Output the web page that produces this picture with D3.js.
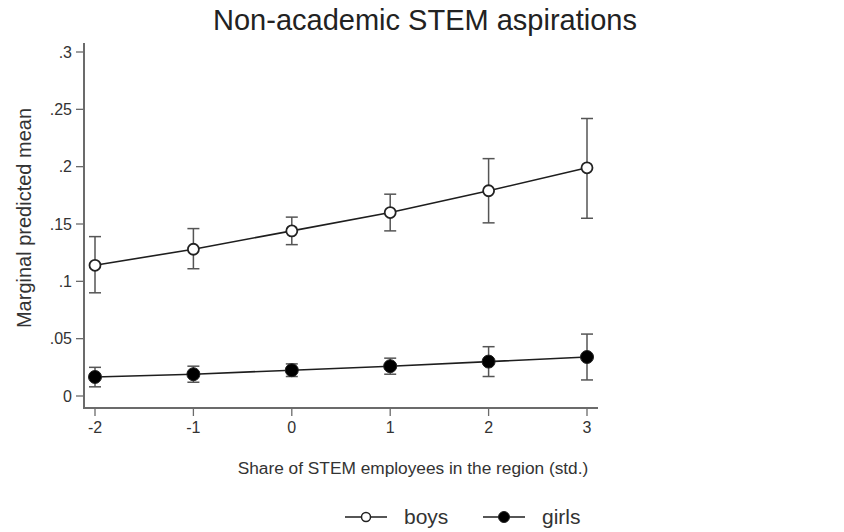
<!DOCTYPE html>
<html><head><meta charset="utf-8">
<script src="https://cdn.jsdelivr.net/npm/d3@7"></script>
<style>body{margin:0;background:#fff;} text{font-family:"Liberation Sans",Arial,sans-serif;}</style>
</head><body>
<svg id="c" width="844" height="532"></svg>
<script>
const xs = [-2, -1, 0, 1, 2, 3];
const boysMean = [0.114, 0.128, 0.144, 0.160, 0.179, 0.199];
const boysLo   = [0.090, 0.111, 0.132, 0.144, 0.151, 0.155];
const boysHi   = [0.139, 0.146, 0.156, 0.176, 0.207, 0.242];
const girlsMean = [0.0166, 0.019, 0.0225, 0.026, 0.030, 0.034];
const girlsLo   = [0.008, 0.012, 0.017, 0.019, 0.017, 0.014];
const girlsHi   = [0.025, 0.026, 0.028, 0.033, 0.043, 0.054];
const yTicks = [0, 0.05, 0.1, 0.15, 0.2, 0.25, 0.3];
const yTickLabels = ["0", ".05", ".1", ".15", ".2", ".25", ".3"];
const xTicks = [-2, -1, 0, 1, 2, 3];
const seriesNames = ["boys", "girls"];

const svg = d3.select("#c");
const x = d3.scaleLinear().domain([-2, 3]).range([95, 587]);
const y = d3.scaleLinear().domain([0, 0.3]).range([396, 52]);
const axisCol = "#6b6b6b", textCol = "#333";

svg.append("line").attr("x1",84).attr("x2",84).attr("y1",43).attr("y2",409).attr("stroke",axisCol).attr("stroke-width",2);
svg.append("line").attr("x1",83).attr("x2",598).attr("y1",408).attr("y2",408).attr("stroke",axisCol).attr("stroke-width",2);

yTicks.forEach((t,i)=>{
  svg.append("line").attr("x1",76).attr("x2",84).attr("y1",y(t)).attr("y2",y(t)).attr("stroke",axisCol).attr("stroke-width",1.3);
  svg.append("text").attr("x",72).attr("y",y(t)).attr("dy","0.35em").attr("text-anchor","end")
    .attr("font-size",16).attr("fill",textCol).text(yTickLabels[i]);
});
xTicks.forEach(t=>{
  svg.append("line").attr("x1",x(t)).attr("x2",x(t)).attr("y1",408).attr("y2",416).attr("stroke",axisCol).attr("stroke-width",1.3);
  svg.append("text").attr("x",x(t)).attr("y",433).attr("text-anchor","middle")
    .attr("font-size",16).attr("fill",textCol).text(String(t));
});

svg.append("text").attr("x",425).attr("y",30).attr("text-anchor","middle").attr("font-size",29).attr("fill","#222").text("Non-academic STEM aspirations");
svg.append("text").attr("x",413).attr("y",474).attr("text-anchor","middle").attr("font-size",17.3).attr("fill",textCol).text("Share of STEM employees in the region (std.)");
svg.append("text").attr("transform","translate(31,218) rotate(-90)").attr("text-anchor","middle").attr("font-size",20).attr("fill",textCol).text("Marginal predicted mean");

const lineCol = "#1e1e1e", errCol = "#555";
function series(mean, lo, hi, filled){
  const g = svg.append("g");
  xs.forEach((v,i)=>{
    g.append("line").attr("x1",x(v)).attr("x2",x(v)).attr("y1",y(lo[i])).attr("y2",y(hi[i])).attr("stroke",errCol).attr("stroke-width",1.5);
    [lo[i],hi[i]].forEach(e=>g.append("line").attr("x1",x(v)-6).attr("x2",x(v)+6).attr("y1",y(e)).attr("y2",y(e)).attr("stroke",errCol).attr("stroke-width",1.5));
  });
  g.append("path").datum(mean).attr("fill","none").attr("stroke",lineCol).attr("stroke-width",1.6)
    .attr("d", d3.line().x((d,i)=>x(xs[i])).y(d=>y(d)));
  xs.forEach((v,i)=>{
    g.append("circle").attr("cx",x(v)).attr("cy",y(mean[i])).attr("r",filled?6.5:5.5)
      .attr("fill",filled?"#000":"#fff").attr("stroke","#222").attr("stroke-width",filled?1:1.8);
  });
}
series(boysMean, boysLo, boysHi, false);
series(girlsMean, girlsLo, girlsHi, true);

const lg = svg.append("g");
const legendX = [345, 483];
seriesNames.forEach((name,i)=>{
  const filled = i===1, lx = legendX[i];
  lg.append("line").attr("x1",lx).attr("x2",lx+42).attr("y1",517).attr("y2",517).attr("stroke",lineCol).attr("stroke-width",1.5);
  lg.append("circle").attr("cx",lx+21).attr("cy",517).attr("r",filled?5.5:4.5).attr("fill",filled?"#000":"#fff").attr("stroke","#222").attr("stroke-width",filled?1:1.5);
  lg.append("text").attr("x",lx+59).attr("y",524).attr("font-size",21).attr("fill",textCol).text(name);
});
</script>
</body></html>
